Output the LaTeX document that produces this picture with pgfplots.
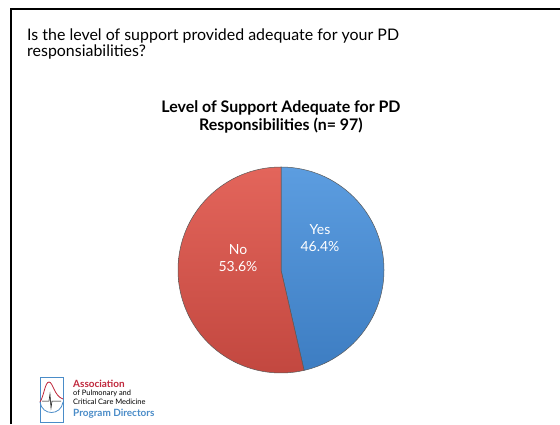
\documentclass[border=0pt]{standalone}
\usepackage{fontspec}
\setmainfont{Lato}
\usepackage{pgfplots}
\usepackage{pgfplotstable}
\pgfplotsset{compat=1.18}
\definecolor{yesTop}{HTML}{5C9DE0}
\definecolor{yesBot}{HTML}{3D7DC2}
\definecolor{noTop}{HTML}{E3655B}
\definecolor{noBot}{HTML}{C2473F}
\definecolor{logoRed}{HTML}{C0283C}
\definecolor{logoBlue}{HTML}{4A8CC8}
\pgfplotstableread{
label value
Yes 46.4
No 53.6
}\piedata
\begin{document}
\begin{tikzpicture}[x=1bp,y=1bp]
\useasboundingbox (0,0) rectangle (560,424);
\fill[white] (0,0) rectangle (560,424);
\pgfplotstablegetelem{0}{value}\of\piedata \let\valYes\pgfplotsretval
\pgfplotstablegetelem{1}{value}\of\piedata \let\valNo\pgfplotsretval
\pgfmathsetmacro\angYes{90-3.6*\valYes}
\begin{axis}[at={(0,0)}, anchor=south west, scale only axis, width=560bp, height=424bp,
  xmin=0, xmax=560, ymin=0, ymax=424, hide axis, clip=false]
% slide frame
\draw[line width=2.4bp, black] (11,0) -- (11,415) -- (560,415);
% question text
\node[anchor=base west, inner sep=0, font=\fontsize{16}{18}\selectfont] at (27,383) {Is the level of support provided adequate for your PD};
\node[anchor=base west, inner sep=0, font=\fontsize{16}{18}\selectfont] at (27,367) {responsiabilities?};
% chart title
\node[align=center, inner sep=0, font=\bfseries\fontsize{16}{18}\selectfont] at (281,307) {Level of Support Adequate for PD\\Responsibilities (n= 97)};
% pie slices
\shade[top color=yesTop, bottom color=yesBot, draw=gray!70!black, line width=0.5bp]
  (281,154) -- (281,257) arc[start angle=90, end angle=\angYes, radius=103bp] -- cycle;
\shade[top color=noTop, bottom color=noBot, draw=gray!70!black, line width=0.5bp]
  (281,154) -- (281,257) arc[start angle=90, end angle=\angYes+360, radius=103bp] -- cycle;
% labels
\node[white, align=center, inner sep=0, font=\fontsize{14}{17}\selectfont] at (320,186) {Yes\\46.4\%};
\node[white, align=center, inner sep=0, font=\fontsize{14}{17}\selectfont] at (238,166) {No\\53.6\%};
% logo
\draw[logoBlue, line width=0.9bp] (40,2) rectangle (63,47);
\draw[logoRed, line width=0.8bp] (40,22) .. controls (44,28) and (45,42) .. (49,42) .. controls (53,42) and (54,28) .. (63,25);
\draw[logoBlue, line width=0.8bp] (40,22) .. controls (42,8) and (61,8) .. (63,22);
\draw[black, line width=0.5bp] (42,23) -- (49,23) -- (50,30) -- (51,16) -- (52,23) -- (61,23);
\node[anchor=base west, inner sep=0, text=logoRed, font=\bfseries\fontsize{10}{10}\selectfont] at (73,37) {Association};
\node[anchor=base west, inner sep=0, font=\fontsize{7.5}{8}\selectfont] at (73,28.5) {of Pulmonary and};
\node[anchor=base west, inner sep=0, font=\fontsize{7.5}{8}\selectfont] at (73,19.5) {Critical Care Medicine};
\node[anchor=base west, inner sep=0, text=logoBlue, font=\bfseries\fontsize{10}{10}\selectfont] at (73,7.5) {Program Directors};
\end{axis}
\end{tikzpicture}
\end{document}
